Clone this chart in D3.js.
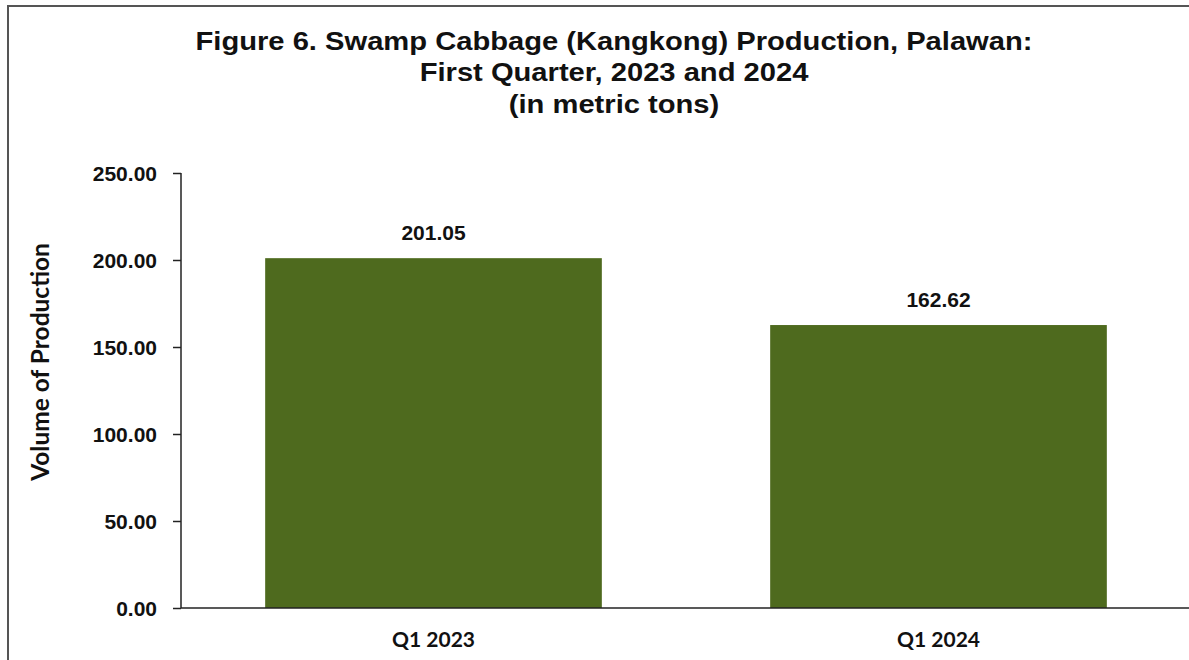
<!DOCTYPE html>
<html><head><meta charset="utf-8">
<script src="https://cdn.jsdelivr.net/npm/d3@7"></script>
<style>body{margin:0;background:#fff;}svg{display:block;}</style>
</head><body>
<script>
const categories = ["Q1 2023", "Q1 2024"];
const production = [201.05, 162.62];
const yTicks = [0, 50, 100, 150, 200, 250];
const titleLines = ["Figure 6. Swamp Cabbage (Kangkong) Production, Palawan:", "First Quarter, 2023 and 2024", "(in metric tons)"];

const W = 1189, H = 660;
const svg = d3.select("body").append("svg").attr("width", W).attr("height", H);
svg.append("rect").attr("width", W).attr("height", H).attr("fill", "#fff");
// frame
svg.append("path").attr("d", `M8,${H} V6 H${W}`).attr("fill", "none").attr("stroke", "#555").attr("stroke-width", 2);

const x = d3.scaleBand().domain(categories).range([181, 1191]).paddingInner(1/3).paddingOuter(1/6);
const y = d3.scaleLinear().domain([0, 250]).range([608, 173]);

// title
const tf = "'Liberation Sans', Arial, sans-serif";
svg.append("g").attr("transform", "translate(614,0) scale(1.1,1)")
  .selectAll("text").data(titleLines).join("text")
  .attr("x", 0).attr("y", (d, i) => 50 + i * 31.5)
  .attr("text-anchor", "middle").attr("font-family", tf).attr("font-weight", "bold")
  .attr("font-size", 26.5).attr("fill", "#111").text(d => d);

// bars
svg.append("g").selectAll("rect").data(production).join("rect")
  .attr("x", (d, i) => x(categories[i])).attr("width", x.bandwidth())
  .attr("y", d => y(d)).attr("height", d => y(0) - y(d)).attr("fill", "#4e6a1e");

// data labels
svg.append("g").selectAll("text").data(production).join("text")
  .attr("x", (d, i) => x(categories[i]) + x.bandwidth() / 2).attr("y", d => y(d) - 18)
  .attr("text-anchor", "middle").attr("font-family", tf).attr("font-weight", "bold")
  .attr("font-size", 21).attr("fill", "#111").text(d => d.toFixed(2));

// y axis
const yAxis = svg.append("g").attr("transform", "translate(181,0)")
  .call(d3.axisLeft(y).tickValues(yTicks).tickSize(8).tickPadding(16).tickFormat(d => d.toFixed(2)));
yAxis.select(".domain").attr("stroke", "#222").attr("stroke-width", 1.5).attr("d", "M0,173V608");
yAxis.selectAll(".tick line").attr("stroke", "#222").attr("stroke-width", 1.5);
yAxis.selectAll(".tick text").attr("font-family", tf).attr("font-weight", "bold")
  .attr("font-size", 21).attr("fill", "#111").attr("dy", "0.36em");

// x axis
const xAxis = svg.append("g").attr("transform", "translate(0,608)")
  .call(d3.axisBottom(x).tickSize(0).tickPadding(24));
xAxis.select(".domain").attr("stroke", "#222").attr("stroke-width", 1.5).attr("d", "M181,0H1191");
xAxis.selectAll(".tick text").attr("font-family", "Lato, 'Open Sans', sans-serif").attr("font-weight", "bold")
  .attr("font-size", 21).attr("fill", "#111").attr("dy", "0.71em");

// y title
svg.append("text").attr("transform", "translate(49,362) rotate(-90)")
  .attr("text-anchor", "middle").attr("font-family", "Lato, 'Open Sans', sans-serif").attr("font-weight", "bold")
  .attr("font-size", 24.5).attr("fill", "#111").text("Volume of Production");
</script>
</body></html>
